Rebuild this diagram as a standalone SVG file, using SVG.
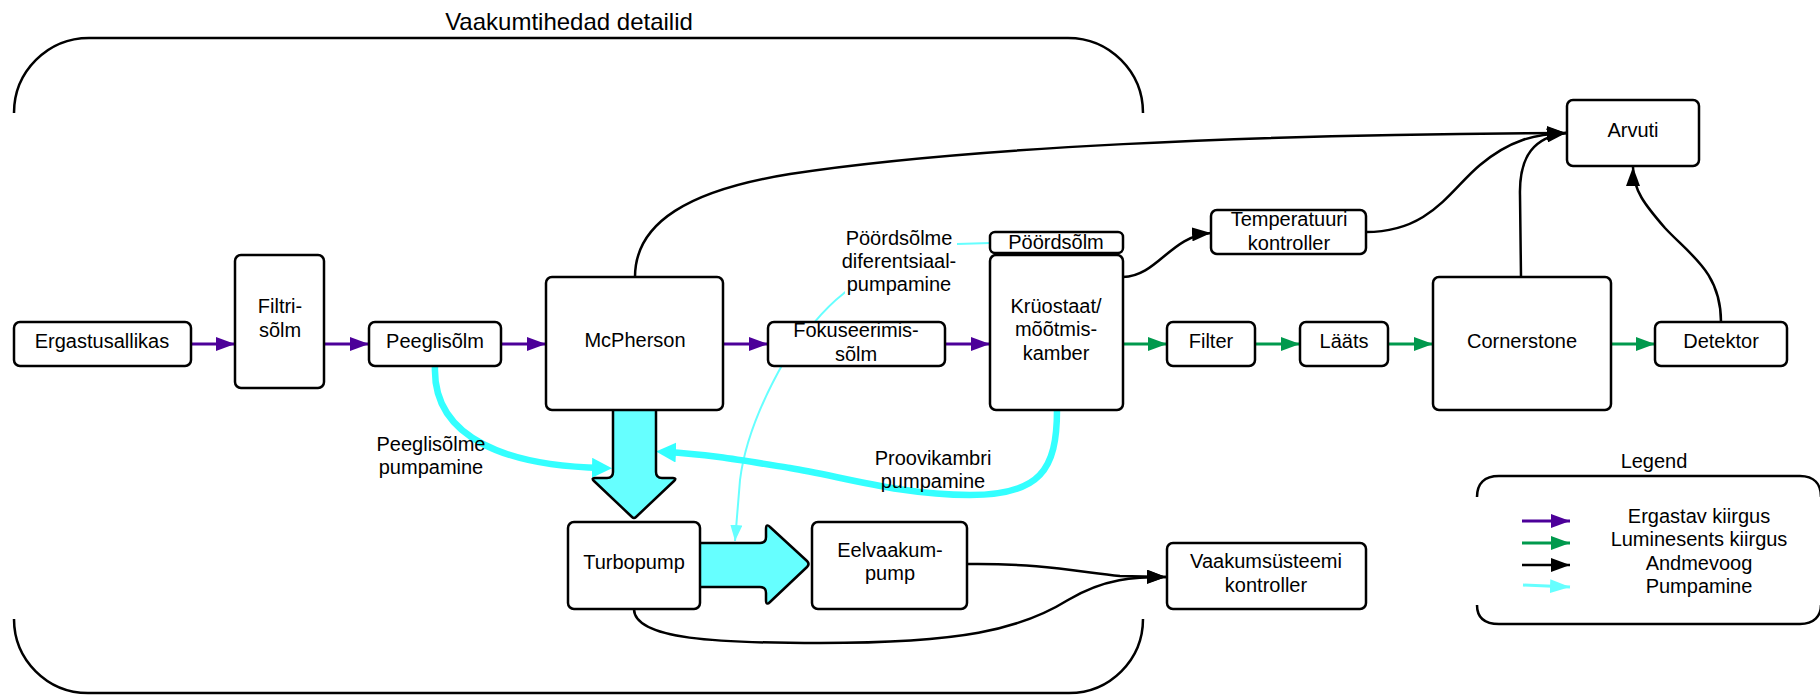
<svg xmlns="http://www.w3.org/2000/svg" width="1820" height="696" viewBox="0 0 1820 696">
  <defs>
    <style>
      text { font-family: "Liberation Sans", Arial, sans-serif; font-size: 20px; fill: #000; text-anchor: middle; }
      .title { font-size: 24px; }
      .node rect { fill: #fff; stroke: #000; stroke-width: 2.5; }
      .frame { fill: none; stroke: #000; stroke-width: 2.5; }
      .ex { fill: none; stroke: #4c0099; stroke-width: 3; }
      .lum { fill: none; stroke: #00994d; stroke-width: 3; }
      .data { fill: none; stroke: #000; stroke-width: 2.5; }
      .pump { fill: none; stroke: #33ffff; stroke-width: 6.5; }
      .pumpthin { fill: none; stroke: #66ffff; stroke-width: 2; }
      .pumpleg { fill: none; stroke: #66ffff; stroke-width: 3; }
      .big { fill: #66ffff; stroke: #000; stroke-width: 2.5; stroke-linejoin: round; }
    </style>
    <marker id="aEx" markerUnits="userSpaceOnUse" markerWidth="19" markerHeight="14" refX="19" refY="7" orient="auto">
      <path d="M0,0 L19,7 L0,14 z" fill="#4c0099"/>
    </marker>
    <marker id="aLum" markerUnits="userSpaceOnUse" markerWidth="19" markerHeight="14" refX="19" refY="7" orient="auto">
      <path d="M0,0 L19,7 L0,14 z" fill="#00994d"/>
    </marker>
    <marker id="aData" markerUnits="userSpaceOnUse" markerWidth="19" markerHeight="14" refX="19" refY="7" orient="auto">
      <path d="M0,0 L19,7 L0,14 z" fill="#000"/>
    </marker>
    <marker id="aPump" markerUnits="userSpaceOnUse" markerWidth="20" markerHeight="20" refX="10" refY="10" orient="auto">
      <path d="M0,0 L20,10 L0,20 z" fill="#33ffff"/>
    </marker>
    <marker id="aThin" markerUnits="userSpaceOnUse" markerWidth="16" markerHeight="12" refX="16" refY="6" orient="auto">
      <path d="M0,0 L16,6 L0,12 z" fill="#66ffff"/>
    </marker>
    <marker id="aLeg" markerUnits="userSpaceOnUse" markerWidth="20" markerHeight="14" refX="20" refY="7" orient="auto">
      <path d="M0,0 L20,7 L0,14 z" fill="#66ffff"/>
    </marker>
  </defs>

  <rect width="1820" height="696" fill="#fff"/>

  <!-- vacuum-tight enclosure bracket -->
  <g id="vacuum-frame">
    <text class="title" x="569" y="30">Vaakumtihedad detailid</text>
    <path class="frame" d="M14,113 A75,75 0 0 1 89,38 L1068,38 A75,75 0 0 1 1143,113"/>
    <path class="frame" d="M14,619 A74,74 0 0 0 88,693 L1069,693 A74,74 0 0 0 1143,619"/>
  </g>

  <g id="connectors">
    <!-- differential pumping of the rotary stage -->
    <path class="pumpthin" marker-end="url(#aThin)" d="M990,243 L957,244 C900,246 860,280 843,294 C820,312 800,340 785,360 C762,400 745,440 740,480 L735,541"/>

    <!-- pumping lines -->
    <path class="pump" marker-end="url(#aPump)" d="M435,366 C432,440 510,466 602,468"/>
    <path class="pump" marker-end="url(#aPump)" d="M1057,410 C1057,470 1040,495 970,495 C900,495 840,476 790,468 C740,460 705,454 666,452"/>

    <!-- main pumping flow -->
    <path class="big" d="M613,410 L613,472 Q613,478 607,478 L595,478 Q591,478 594,481 L632,517 Q634,519 636,517 L674,481 Q677,478 673,478 L662,478 Q656,478 656,472 L656,410"/>
    <path class="big" d="M700,543 L760,543 Q766,543 766,537 L766,529 Q766,523 770,527 L807,561 Q810,564 807,567 L770,602 Q766,606 766,600 L766,593 Q766,587 760,587 L700,587"/>

    <!-- excitation beam -->
    <path class="ex" marker-end="url(#aEx)" d="M191,344 L235,344"/>
    <path class="ex" marker-end="url(#aEx)" d="M324,344 L369,344"/>
    <path class="ex" marker-end="url(#aEx)" d="M501,344 L546,344"/>
    <path class="ex" marker-end="url(#aEx)" d="M723,344 L768,344"/>
    <path class="ex" marker-end="url(#aEx)" d="M945,344 L990,344"/>

    <!-- luminescence beam -->
    <path class="lum" marker-end="url(#aLum)" d="M1123,344 L1167,344"/>
    <path class="lum" marker-end="url(#aLum)" d="M1255,344 L1300,344"/>
    <path class="lum" marker-end="url(#aLum)" d="M1388,344 L1433,344"/>
    <path class="lum" marker-end="url(#aLum)" d="M1611,344 L1655,344"/>

    <!-- data flow -->
    <path class="data" marker-end="url(#aData)" d="M635,277 C635,222 690,190 790,174 C960,148 1250,134 1566,133"/>
    <path class="data" marker-end="url(#aData)" d="M1123,277 C1158,276 1170,236 1211,233"/>
    <path class="data" marker-end="url(#aData)" d="M1366,232 C1430,232 1450,190 1480,165 C1510,140 1535,134 1566,133"/>
    <path class="data" marker-end="url(#aData)" d="M1521,277 L1520,195 C1519,155 1535,137 1566,133"/>
    <path class="data" marker-end="url(#aData)" d="M1721,322 C1721,272 1690,255 1665,228 C1645,205 1633,190 1633,167"/>
    <path class="data" marker-end="url(#aData)" d="M967,564 C1040,563 1080,572 1120,576 L1166,577"/>
    <path class="data" marker-end="url(#aData)" d="M634,609 C634,640 720,643 820,643 C960,643 1020,630 1068,600 C1105,578 1135,577 1166,577"/>
  </g>

  <!-- connector labels -->
  <g id="labels">
    <rect x="845" y="226" width="112" height="70" fill="#fff"/>
    <text x="899" y="245">Pöördsõlme</text>
    <text x="899" y="268">diferentsiaal-</text>
    <text x="899" y="291">pumpamine</text>
    <text x="431" y="451">Peeglisõlme</text>
    <text x="431" y="474">pumpamine</text>
    <text x="933" y="465">Proovikambri</text>
    <text x="933" y="488">pumpamine</text>
  </g>

  <g id="ergastusallikas" class="node">
    <rect x="14" y="322" width="177" height="44" rx="6"/>
    <text x="102" y="348">Ergastusallikas</text>
  </g>
  <g id="filtrisolm" class="node">
    <rect x="235" y="255" width="89" height="133" rx="6"/>
    <text x="280" y="313">Filtri-</text>
    <text x="280" y="337">sõlm</text>
  </g>
  <g id="peeglisolm" class="node">
    <rect x="369" y="322" width="132" height="44" rx="6"/>
    <text x="435" y="348">Peeglisõlm</text>
  </g>
  <g id="mcpherson" class="node">
    <rect x="546" y="277" width="177" height="133" rx="6"/>
    <text x="635" y="347">McPherson</text>
  </g>
  <g id="fokuseerimissolm" class="node">
    <rect x="768" y="322" width="177" height="44" rx="6"/>
    <text x="856" y="337">Fokuseerimis-</text>
    <text x="856" y="361">sõlm</text>
  </g>
  <g id="poordsolm" class="node">
    <rect x="990" y="232" width="133" height="21" rx="5"/>
    <text x="1056" y="249">Pöördsõlm</text>
  </g>
  <g id="kruostaat" class="node">
    <rect x="990" y="255" width="133" height="155" rx="6"/>
    <text x="1056" y="313">Krüostaat/</text>
    <text x="1056" y="336">mõõtmis-</text>
    <text x="1056" y="360">kamber</text>
  </g>
  <g id="temperatuuri-kontroller" class="node">
    <rect x="1211" y="210" width="155" height="44" rx="6"/>
    <text x="1289" y="226">Temperatuuri</text>
    <text x="1289" y="250">kontroller</text>
  </g>
  <g id="arvuti" class="node">
    <rect x="1567" y="100" width="132" height="66" rx="6"/>
    <text x="1633" y="137">Arvuti</text>
  </g>
  <g id="filter" class="node">
    <rect x="1167" y="322" width="88" height="44" rx="6"/>
    <text x="1211" y="348">Filter</text>
  </g>
  <g id="laats" class="node">
    <rect x="1300" y="322" width="88" height="44" rx="6"/>
    <text x="1344" y="348">Lääts</text>
  </g>
  <g id="cornerstone" class="node">
    <rect x="1433" y="277" width="178" height="133" rx="6"/>
    <text x="1522" y="348">Cornerstone</text>
  </g>
  <g id="detektor" class="node">
    <rect x="1655" y="322" width="132" height="44" rx="6"/>
    <text x="1721" y="348">Detektor</text>
  </g>
  <g id="turbopump" class="node">
    <rect x="568" y="522" width="132" height="87" rx="6"/>
    <text x="634" y="569">Turbopump</text>
  </g>
  <g id="eelvaakumpump" class="node">
    <rect x="812" y="522" width="155" height="87" rx="6"/>
    <text x="890" y="557">Eelvaakum-</text>
    <text x="890" y="580">pump</text>
  </g>
  <g id="vaakumsusteemi-kontroller" class="node">
    <rect x="1167" y="543" width="199" height="66" rx="6"/>
    <text x="1266" y="568">Vaakumsüsteemi</text>
    <text x="1266" y="592">kontroller</text>
  </g>

  <g id="legend">
    <text x="1654" y="468">Legend</text>
    <path class="frame" d="M1477,497 C1477,484 1484,476 1499,476 L1800,476 C1814,476 1821,484 1821,497"/>
    <path class="frame" d="M1477,605 C1477,617 1484,624 1499,624 L1800,624 C1814,624 1821,616 1821,605"/>
    <path class="ex" marker-end="url(#aEx)" d="M1522,521 L1570,521"/>
    <path class="lum" marker-end="url(#aLum)" d="M1522,543 L1570,543"/>
    <path class="data" marker-end="url(#aData)" d="M1522,565 L1570,565"/>
    <path class="pumpleg" marker-end="url(#aLeg)" d="M1523,585 L1570,587"/>
    <text x="1699" y="523">Ergastav kiirgus</text>
    <text x="1699" y="546">Luminesents kiirgus</text>
    <text x="1699" y="570">Andmevoog</text>
    <text x="1699" y="593">Pumpamine</text>
  </g>
</svg>
